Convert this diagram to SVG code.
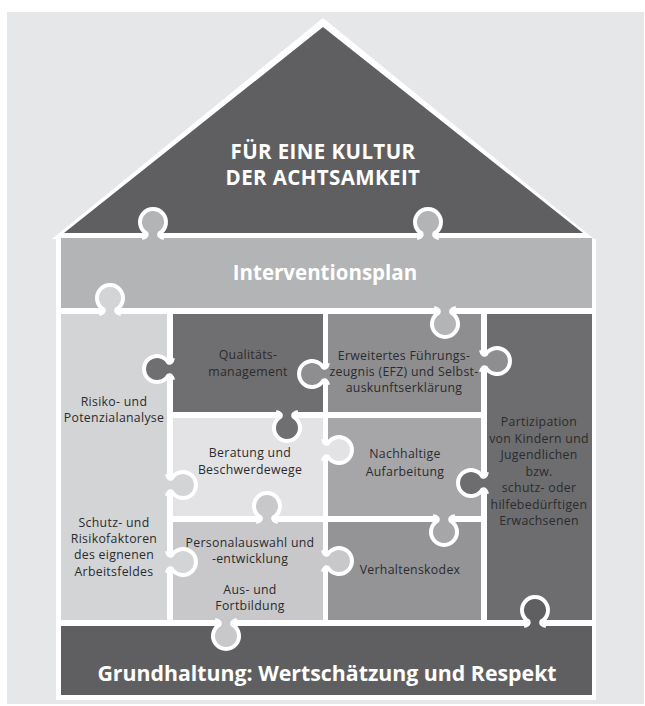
<svg xmlns="http://www.w3.org/2000/svg" width="645" height="706" viewBox="0 0 645 706">
<defs>
<style>
.tabs{stroke:#ffffff;stroke-width:4;stroke-linejoin:round;stroke-linecap:butt;fill:none}
.big{font-family:"Open Sans","Liberation Sans",sans-serif;font-weight:700;fill:#ffffff;text-anchor:middle}
.sm{font-family:"Open Sans","Liberation Sans",sans-serif;font-size:12.3px;letter-spacing:0.3px;fill:#2b2b2d;text-anchor:middle}
</style>
</defs>
<rect x="7" y="12" width="637" height="692" fill="#e6e7e9"/>
<path id="house-outline" d="M323,18 L52,239 L56,239 L56,700 L596,700 L596,239 L594,239 Z" fill="#ffffff"/>

<g id="roof">
<path d="M323,27 L64,233 L583,233 Z" fill="#5f5f62"/>
<text class="big" x="323" y="159" font-size="20.5" letter-spacing="0.4">FÜR EINE KULTUR</text>
<text class="big" x="323" y="185" font-size="20.5" letter-spacing="0.4">DER ACHTSAMKEIT</text>
</g>
<g id="interventionsplan">
<rect x="61" y="238" width="531" height="70" fill="#b3b4b6"/>
</g>
<g id="risiko">
<rect x="61" y="314" width="106" height="306" fill="#d3d4d6"/>
</g>
<g id="qualitaet">
<rect x="173" y="314" width="150" height="98" fill="#6f6f71"/>
</g>
<g id="efz">
<rect x="328" y="314" width="153" height="98" fill="#8e8e90"/>
</g>
<g id="partizipation">
<rect x="487" y="314" width="105" height="306" fill="#6d6d6f"/>
</g>
<g id="beratung">
<rect x="173" y="418" width="150" height="98" fill="#e3e3e5"/>
</g>
<g id="aufarbeitung">
<rect x="328" y="418" width="153" height="98" fill="#a6a6a8"/>
</g>
<g id="personal">
<rect x="173" y="522" width="150" height="98" fill="#c8c8ca"/>
</g>
<g id="verhaltenskodex">
<rect x="328" y="522" width="153" height="98" fill="#949496"/>
</g>
<g id="grundhaltung">
<rect x="61" y="626" width="531" height="69" fill="#5f5f61"/>
</g>

<g id="puzzle-tabs">
<g transform="translate(153,238)"><path fill="#b3b4b6" d="M-11,0.5 C-7,-1 -5.5,-2.5 -6.5,-4.7 A13,13 0 1 1 6.5,-4.7 C5.5,-2.5 7,-1 11,0.5 Z"/><path class="tabs" d="M-11,0 C-7,-1 -5.5,-2.5 -6.5,-4.7 A13,13 0 1 1 6.5,-4.7 C5.5,-2.5 7,-1 11,0"/></g>
<g transform="translate(428,238)"><path fill="#b3b4b6" d="M-11,0.5 C-7,-1 -5.5,-2.5 -6.5,-4.7 A13,13 0 1 1 6.5,-4.7 C5.5,-2.5 7,-1 11,0.5 Z"/><path class="tabs" d="M-11,0 C-7,-1 -5.5,-2.5 -6.5,-4.7 A13,13 0 1 1 6.5,-4.7 C5.5,-2.5 7,-1 11,0"/></g>
<g transform="translate(110,314)"><path fill="#d3d4d6" d="M-11,0.5 C-7,-1 -5.5,-2.5 -6.5,-4.7 A13,13 0 1 1 6.5,-4.7 C5.5,-2.5 7,-1 11,0.5 Z"/><path class="tabs" d="M-11,0 C-7,-1 -5.5,-2.5 -6.5,-4.7 A13,13 0 1 1 6.5,-4.7 C5.5,-2.5 7,-1 11,0"/></g>
<g transform="translate(445,308) rotate(180)"><path fill="#b3b4b6" d="M-11,0.5 C-7,-1 -5.5,-2.5 -6.5,-4.7 A13,13 0 1 1 6.5,-4.7 C5.5,-2.5 7,-1 11,0.5 Z"/><path class="tabs" d="M-11,0 C-7,-1 -5.5,-2.5 -6.5,-4.7 A13,13 0 1 1 6.5,-4.7 C5.5,-2.5 7,-1 11,0"/></g>
<g transform="translate(173,369) rotate(-90)"><path fill="#6f6f71" d="M-11,0.5 C-7,-1 -5.5,-2.5 -6.5,-4.7 A13,13 0 1 1 6.5,-4.7 C5.5,-2.5 7,-1 11,0.5 Z"/><path class="tabs" d="M-11,0 C-7,-1 -5.5,-2.5 -6.5,-4.7 A13,13 0 1 1 6.5,-4.7 C5.5,-2.5 7,-1 11,0"/></g>
<g transform="translate(328,374) rotate(-90)"><path fill="#8e8e90" d="M-11,0.5 C-7,-1 -5.5,-2.5 -6.5,-4.7 A13,13 0 1 1 6.5,-4.7 C5.5,-2.5 7,-1 11,0.5 Z"/><path class="tabs" d="M-11,0 C-7,-1 -5.5,-2.5 -6.5,-4.7 A13,13 0 1 1 6.5,-4.7 C5.5,-2.5 7,-1 11,0"/></g>
<g transform="translate(481,361) rotate(90)"><path fill="#8e8e90" d="M-11,0.5 C-7,-1 -5.5,-2.5 -6.5,-4.7 A13,13 0 1 1 6.5,-4.7 C5.5,-2.5 7,-1 11,0.5 Z"/><path class="tabs" d="M-11,0 C-7,-1 -5.5,-2.5 -6.5,-4.7 A13,13 0 1 1 6.5,-4.7 C5.5,-2.5 7,-1 11,0"/></g>
<g transform="translate(287,412) rotate(180)"><path fill="#6f6f71" d="M-11,0.5 C-7,-1 -5.5,-2.5 -6.5,-4.7 A13,13 0 1 1 6.5,-4.7 C5.5,-2.5 7,-1 11,0.5 Z"/><path class="tabs" d="M-11,0 C-7,-1 -5.5,-2.5 -6.5,-4.7 A13,13 0 1 1 6.5,-4.7 C5.5,-2.5 7,-1 11,0"/></g>
<g transform="translate(167,485) rotate(90)"><path fill="#d3d4d6" d="M-11,0.5 C-7,-1 -5.5,-2.5 -6.5,-4.7 A13,13 0 1 1 6.5,-4.7 C5.5,-2.5 7,-1 11,0.5 Z"/><path class="tabs" d="M-11,0 C-7,-1 -5.5,-2.5 -6.5,-4.7 A13,13 0 1 1 6.5,-4.7 C5.5,-2.5 7,-1 11,0"/></g>
<g transform="translate(167,562) rotate(90)"><path fill="#d3d4d6" d="M-11,0.5 C-7,-1 -5.5,-2.5 -6.5,-4.7 A13,13 0 1 1 6.5,-4.7 C5.5,-2.5 7,-1 11,0.5 Z"/><path class="tabs" d="M-11,0 C-7,-1 -5.5,-2.5 -6.5,-4.7 A13,13 0 1 1 6.5,-4.7 C5.5,-2.5 7,-1 11,0"/></g>
<g transform="translate(267,522)"><path fill="#c8c8ca" d="M-11,0.5 C-7,-1 -5.5,-2.5 -6.5,-4.7 A13,13 0 1 1 6.5,-4.7 C5.5,-2.5 7,-1 11,0.5 Z"/><path class="tabs" d="M-11,0 C-7,-1 -5.5,-2.5 -6.5,-4.7 A13,13 0 1 1 6.5,-4.7 C5.5,-2.5 7,-1 11,0"/></g>
<g transform="translate(323,450) rotate(90)"><path fill="#e3e3e5" d="M-11,0.5 C-7,-1 -5.5,-2.5 -6.5,-4.7 A13,13 0 1 1 6.5,-4.7 C5.5,-2.5 7,-1 11,0.5 Z"/><path class="tabs" d="M-11,0 C-7,-1 -5.5,-2.5 -6.5,-4.7 A13,13 0 1 1 6.5,-4.7 C5.5,-2.5 7,-1 11,0"/></g>
<g transform="translate(487,483) rotate(-90)"><path fill="#6d6d6f" d="M-11,0.5 C-7,-1 -5.5,-2.5 -6.5,-4.7 A13,13 0 1 1 6.5,-4.7 C5.5,-2.5 7,-1 11,0.5 Z"/><path class="tabs" d="M-11,0 C-7,-1 -5.5,-2.5 -6.5,-4.7 A13,13 0 1 1 6.5,-4.7 C5.5,-2.5 7,-1 11,0"/></g>
<g transform="translate(444,516) rotate(180)"><path fill="#a6a6a8" d="M-11,0.5 C-7,-1 -5.5,-2.5 -6.5,-4.7 A13,13 0 1 1 6.5,-4.7 C5.5,-2.5 7,-1 11,0.5 Z"/><path class="tabs" d="M-11,0 C-7,-1 -5.5,-2.5 -6.5,-4.7 A13,13 0 1 1 6.5,-4.7 C5.5,-2.5 7,-1 11,0"/></g>
<g transform="translate(323,561) rotate(90)"><path fill="#c8c8ca" d="M-11,0.5 C-7,-1 -5.5,-2.5 -6.5,-4.7 A13,13 0 1 1 6.5,-4.7 C5.5,-2.5 7,-1 11,0.5 Z"/><path class="tabs" d="M-11,0 C-7,-1 -5.5,-2.5 -6.5,-4.7 A13,13 0 1 1 6.5,-4.7 C5.5,-2.5 7,-1 11,0"/></g>
<g transform="translate(226,620) rotate(180)"><path fill="#c8c8ca" d="M-11,0.5 C-7,-1 -5.5,-2.5 -6.5,-4.7 A13,13 0 1 1 6.5,-4.7 C5.5,-2.5 7,-1 11,0.5 Z"/><path class="tabs" d="M-11,0 C-7,-1 -5.5,-2.5 -6.5,-4.7 A13,13 0 1 1 6.5,-4.7 C5.5,-2.5 7,-1 11,0"/></g>
<g transform="translate(535,626)"><path fill="#5f5f61" d="M-11,0.5 C-7,-1 -5.5,-2.5 -6.5,-4.7 A13,13 0 1 1 6.5,-4.7 C5.5,-2.5 7,-1 11,0.5 Z"/><path class="tabs" d="M-11,0 C-7,-1 -5.5,-2.5 -6.5,-4.7 A13,13 0 1 1 6.5,-4.7 C5.5,-2.5 7,-1 11,0"/></g>
</g>

<g id="labels">
<text class="big" x="325" y="280" font-size="20.5">Interventionsplan</text>
<text class="big" x="327" y="681" font-size="21.3">Grundhaltung: Wertschätzung und Respekt</text>
<text class="sm" x="114" y="406">Risiko- und</text>
<text class="sm" x="114" y="422">Potenzialanalyse</text>
<text class="sm" x="114" y="527">Schutz- und</text>
<text class="sm" x="114" y="543">Risikofaktoren</text>
<text class="sm" x="114" y="559">des eignenen</text>
<text class="sm" x="114" y="576">Arbeitsfeldes</text>
<text class="sm" x="248" y="359">Qualitäts-</text>
<text class="sm" x="248" y="376">management</text>
<text class="sm" x="404" y="360">Erweitertes Führungs-</text>
<text class="sm" x="404" y="376">zeugnis (EFZ) und Selbst-</text>
<text class="sm" x="404" y="392">auskunftserklärung</text>
<text class="sm" x="250" y="457">Beratung und</text>
<text class="sm" x="250" y="474">Beschwerdewege</text>
<text class="sm" x="405" y="458">Nachhaltige</text>
<text class="sm" x="405" y="476">Aufarbeitung</text>
<text class="sm" x="250" y="547">Personalauswahl und</text>
<text class="sm" x="250" y="563">-entwicklung</text>
<text class="sm" x="250" y="594">Aus- und</text>
<text class="sm" x="250" y="610">Fortbildung</text>
<text class="sm" x="410" y="574">Verhaltenskodex</text>
<text class="sm" x="539" y="426">Partizipation</text>
<text class="sm" x="539" y="442.5">von Kindern und</text>
<text class="sm" x="539" y="459">Jugendlichen</text>
<text class="sm" x="539" y="475.5">bzw.</text>
<text class="sm" x="539" y="492">schutz- oder</text>
<text class="sm" x="539" y="508.5">hilfebedürftigen</text>
<text class="sm" x="539" y="525">Erwachsenen</text>
</g>
</svg>
